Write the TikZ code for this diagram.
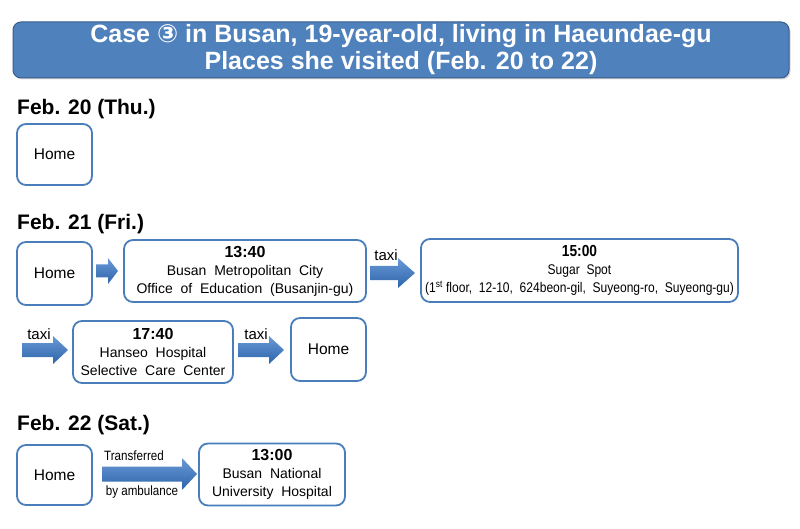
\documentclass[tikz,border=0pt]{standalone}
\usepackage{fontspec}
\setmainfont{Liberation Sans}
\newfontfamily\dejavu{DejaVu Sans}
\usetikzlibrary{shadows}
\definecolor{boxblue}{HTML}{4A7EBB}
\definecolor{titlefill}{HTML}{4F81BD}
\definecolor{titleborder}{HTML}{385D8A}
\definecolor{arrtop}{HTML}{6A9AD6}
\definecolor{arrbot}{HTML}{2C63AA}
\newcommand\blockarrow[6]{\shade[arrowshade] (#1,#4-#5) -- (#3,#4-#5) -- (#3,#4-#6) -- (#2,#4) -- (#3,#4+#6) -- (#3,#4+#5) -- (#1,#4+#5) -- cycle;}
\newcommand\narrowtext[1]{\scalebox{0.86}[1]{#1}}
\begin{document}
\begin{tikzpicture}[x=1pt,y=-1pt,
 box/.style={draw=boxblue, line width=1.8pt, rounded corners=9pt, fill=white, inner sep=0pt, align=center, font=\fontsize{14}{18}\selectfont},
 homebox/.style={box, font=\fontsize{15.5}{18}\selectfont},
 datelabel/.style={anchor=base west, font=\bfseries\fontsize{21}{24}\selectfont, inner sep=0pt},
 lbl/.style={font=\fontsize{15}{18}\selectfont, inner sep=0pt},
 smalllbl/.style={font=\fontsize{13.5}{16}\selectfont, inner sep=0pt},
 arrowshade/.style={top color=arrtop, bottom color=arrbot}]
\useasboundingbox (0,0) rectangle (800,529);

% title
\node[draw=titleborder, fill=titlefill, rounded corners=8pt, line width=1pt,
  minimum width=776, minimum height=56, inner sep=0pt, align=center,
  text=white, font=\bfseries\fontsize{25}{27}\selectfont,
  drop shadow={opacity=0.3, shadow xshift=1.5pt, shadow yshift=-1.5pt}]
  (title) at (401,50) {Case {\dejavu\bfseries ③} in Busan, 19-year-old, living in Haeundae-gu\\Places she visited (Feb. 20 to 22)};

% Feb. 20
\node[datelabel] (d20) at (17,115) {Feb. 20 (Thu.)};
\node[homebox, minimum width=75, minimum height=61] (h20) at (54.5,154.5) {Home};

% Feb. 21
\node[datelabel] (d21) at (17,230) {Feb. 21 (Fri.)};
\node[homebox, minimum width=75, minimum height=63] (h21) at (54.5,273.5) {Home};
\node[box, minimum width=242, minimum height=62] (edu) at (245,271)
  {{\bfseries\fontsize{16}{18}\selectfont 13:40}\\Busan\ \ Metropolitan\ \ City\\Office\ \ of\ \ Education\ \ (Busanjin-gu)};
\node[box, minimum width=317, minimum height=63] (sugar) at (579.5,270.5)
  {{\bfseries\fontsize{16}{18}\selectfont\narrowtext{15:00}}\\\narrowtext{Sugar\ \ Spot}\\\narrowtext{(1\textsuperscript{st} floor,\ \ 12-10,\ \ 624beon-gil,\ \ Suyeong-ro,\ \ Suyeong-gu)}};
\node[box, minimum width=160, minimum height=62] (hanseo) at (153,352)
  {{\bfseries\fontsize{16}{18}\selectfont 17:40}\\Hanseo\ \ Hospital\\Selective\ \ Care\ \ Center};
\node[homebox, minimum width=75, minimum height=63] (h21b) at (328.5,349.5) {Home};

\node[lbl] (t1) at (386,255) {taxi};
\node[lbl] (t2) at (39,334) {taxi};
\node[lbl] (t3) at (256,334) {taxi};

\blockarrow{96}{118}{108}{271}{6.5}{13}
\blockarrow{370}{415}{398}{273}{7}{15}
\blockarrow{22}{68}{53}{350}{7}{14}
\blockarrow{238}{284}{269}{350}{7}{14}

% Feb. 22
\node[datelabel] (d22) at (17,430) {Feb. 22 (Sat.)};
\node[homebox, minimum width=75, minimum height=60] (h22) at (54.5,475) {Home};
\node[box, minimum width=146, minimum height=62] (pnuh) at (272,474.5)
  {{\bfseries\fontsize{16}{18}\selectfont 13:00}\\Busan\ \ National\\University\ \ Hospital};
\blockarrow{102}{197}{182}{474}{7.5}{16}
\node[smalllbl] (tr) at (134,456) {\narrowtext{Transferred}};
\node[smalllbl] (amb) at (142,492) {\narrowtext{by ambulance}};
\end{tikzpicture}
\end{document}
